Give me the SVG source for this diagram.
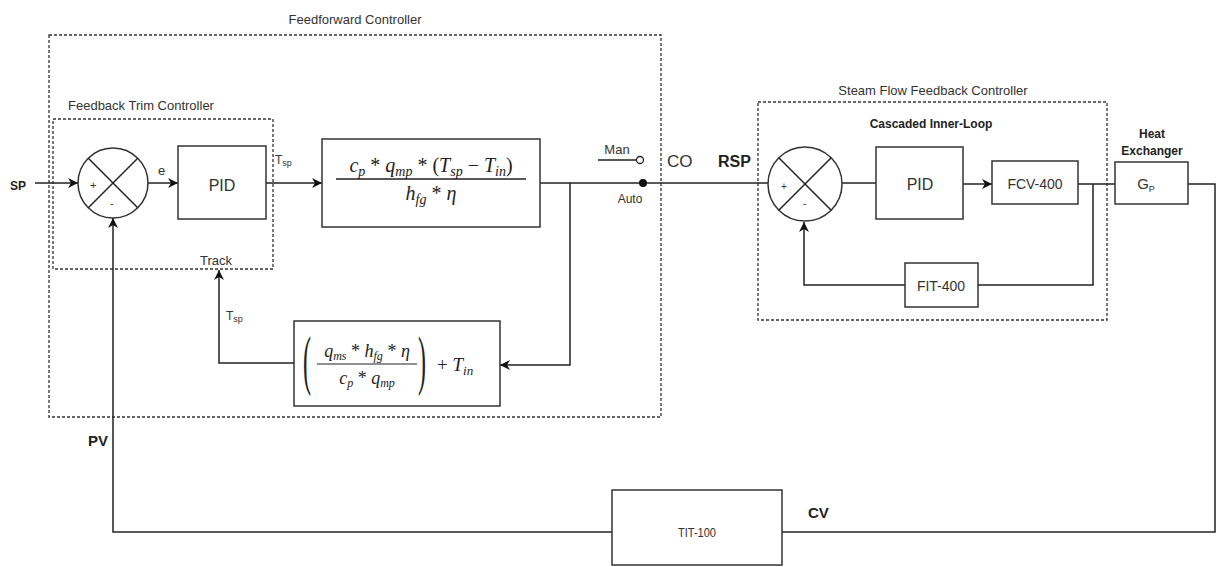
<svg xmlns="http://www.w3.org/2000/svg" width="1217" height="567" viewBox="0 0 1217 567">
<defs>
<marker id="arr" viewBox="0 0 10 10" refX="10" refY="5" markerWidth="10" markerHeight="10" markerUnits="userSpaceOnUse" orient="auto">
<path d="M0,0 L10,5 L0,10 L3,5 Z" fill="#111"/>
</marker>
</defs>
<style>
.ln{stroke:#222;stroke-width:1.5;fill:none}
.bx{stroke:#333;stroke-width:1.5;fill:#fff}
.dash{stroke:#333;stroke-width:1.3;fill:none;stroke-dasharray:3,2}
.t{font-family:"Liberation Sans",Arial,sans-serif;fill:#333}
.b{font-family:"Liberation Sans",Arial,sans-serif;fill:#222;font-weight:bold}
.m{font-family:"Liberation Serif","DejaVu Serif",serif;font-style:italic;fill:#222}
.mn{font-family:"Liberation Serif","DejaVu Serif",serif;font-style:normal;fill:#222}
</style>
<rect width="1217" height="567" fill="#fff"/>

<g id="feedforward-controller">
<rect class="dash" x="49" y="35" width="612" height="382"/>
<text class="t" x="355" y="24" font-size="13" text-anchor="middle">Feedforward Controller</text>
</g>
<g id="feedback-trim-controller">
<rect class="dash" x="53" y="119" width="220" height="150"/>
<text class="t" x="68" y="110" font-size="13">Feedback Trim Controller</text>
</g>
<g id="steam-flow-controller">
<rect class="dash" x="758" y="102" width="349" height="218"/>
<text class="t" x="933" y="95" font-size="13" text-anchor="middle">Steam Flow Feedback Controller</text>
<text class="b" x="931" y="128" font-size="12" text-anchor="middle">Cascaded Inner-Loop</text>
</g>

<g id="connectors">
<line class="ln" x1="35" y1="183" x2="78" y2="183" marker-end="url(#arr)"/>
<line class="ln" x1="148" y1="183" x2="178" y2="183" marker-end="url(#arr)"/>
<line class="ln" x1="266" y1="183" x2="322" y2="183" marker-end="url(#arr)"/>
<polyline class="ln" points="540,183 643,183"/>
<polyline class="ln" points="570,183 570,365 500,365" marker-end="url(#arr)"/>
<polyline class="ln" points="294,363 219,363 219,270" marker-end="url(#arr)"/>
<line class="ln" x1="598" y1="160" x2="636" y2="160"/>
<line class="ln" x1="643" y1="183" x2="768" y2="183"/>
<line class="ln" x1="842" y1="183" x2="876" y2="183"/>
<line class="ln" x1="963" y1="184" x2="992" y2="184" marker-end="url(#arr)"/>
<line class="ln" x1="1078" y1="184" x2="1115" y2="184"/>
<polyline class="ln" points="1093,184 1093,285 978,285"/>
<polyline class="ln" points="905,285 804,285 804,222" marker-end="url(#arr)"/>
<polyline class="ln" points="1188,184 1215,184 1215,532 782,532"/>
<polyline class="ln" points="612,532 113,532 113,218" marker-end="url(#arr)"/>
</g>

<g id="sum1">
<circle cx="113" cy="183" r="35" class="bx" fill="none"/>
<line class="ln" x1="88.3" y1="158.3" x2="137.7" y2="207.7"/>
<line class="ln" x1="137.7" y1="158.3" x2="88.3" y2="207.7"/>
<text class="t" x="90" y="189" font-size="11">+</text>
<text class="t" x="110" y="207" font-size="11">-</text>
</g>

<g id="pid1">
<rect class="bx" x="178" y="146" width="88" height="73"/>
<text class="t" x="222" y="191" font-size="16" text-anchor="middle">PID</text>
</g>

<g id="ff-formula">
<rect class="bx" x="322" y="139" width="218" height="88"/>
<text class="m" x="431" y="172" font-size="20" text-anchor="middle">c<tspan font-size="14" dy="4">p</tspan><tspan dy="-4" class="mn"> * </tspan>q<tspan font-size="14" dy="4">mp</tspan><tspan dy="-4" class="mn"> * (</tspan>T<tspan font-size="14" dy="4">sp</tspan><tspan dy="-4" class="mn"> − </tspan>T<tspan font-size="14" dy="4">in</tspan><tspan dy="-4" class="mn">)</tspan></text>
<line x1="336" y1="179" x2="526" y2="179" stroke="#222" stroke-width="1.3"/>
<text class="m" x="431" y="200" font-size="20" text-anchor="middle">h<tspan font-size="14" dy="4">fg</tspan><tspan dy="-4" class="mn"> * </tspan>η</text>
</g>

<g id="track-formula">
<rect class="bx" x="294" y="321" width="206" height="85"/>
<text class="mn" x="303" y="370" font-size="24" transform="translate(0 363) scale(1 2.7) translate(0 -363)">(</text>
<text class="mn" x="418" y="370" font-size="24" transform="translate(0 363) scale(1 2.7) translate(0 -363)">)</text>
<text class="m" x="367" y="357" text-anchor="middle" font-size="18">q<tspan font-size="12" dy="3">ms</tspan><tspan dy="-3" class="mn"> * </tspan>h<tspan font-size="12" dy="3">fg</tspan><tspan dy="-3" class="mn"> * </tspan>η</text>
<line x1="317" y1="364" x2="417" y2="364" stroke="#222" stroke-width="1.2"/>
<text class="m" x="367" y="384" text-anchor="middle" font-size="18">c<tspan font-size="12" dy="3">p</tspan><tspan dy="-3" class="mn"> * </tspan>q<tspan font-size="12" dy="3">mp</tspan></text>
<text class="m" x="437" y="371" font-size="19"><tspan class="mn">+ </tspan>T<tspan font-size="13" dy="4">in</tspan></text>
</g>

<g id="switch">
<circle cx="640" cy="160" r="3.5" fill="#fff" stroke="#222" stroke-width="1.3"/>
<circle cx="643" cy="183" r="4" fill="#111"/>
<text class="t" x="617" y="154" font-size="13" text-anchor="middle">Man</text>
<text class="t" x="630" y="203" font-size="12" text-anchor="middle">Auto</text>
</g>

<g id="labels">
<text class="b" x="10" y="190" font-size="12">SP</text>
<text class="t" x="158" y="175" font-size="13">e</text>
<text class="t" x="275" y="164" font-size="12">T<tspan font-size="9" dy="2">sp</tspan></text>
<text class="t" x="200" y="265" font-size="13">Track</text>
<text class="t" x="226" y="320" font-size="12">T<tspan font-size="9" dy="2">sp</tspan></text>
<text class="t" x="667" y="167" font-size="17" fill="#222">CO</text>
<text class="b" x="718" y="167" font-size="16">RSP</text>
<text class="b" x="88" y="446" font-size="15">PV</text>
<text class="b" x="808" y="518" font-size="15">CV</text>
</g>

<g id="sum2">
<circle cx="805" cy="184" r="37" class="bx" fill="none"/>
<line class="ln" x1="778.8" y1="157.8" x2="831.2" y2="210.2"/>
<line class="ln" x1="831.2" y1="157.8" x2="778.8" y2="210.2"/>
<text class="t" x="781" y="190" font-size="10">+</text>
<text class="t" x="803" y="207" font-size="10">-</text>
</g>

<g id="pid2">
<rect class="bx" x="876" y="147" width="87" height="72"/>
<text class="t" x="920" y="190" font-size="16" text-anchor="middle">PID</text>
</g>

<g id="fcv400">
<rect class="bx" x="992" y="161" width="86" height="43"/>
<text class="t" x="1035" y="189" font-size="14" text-anchor="middle">FCV-400</text>
</g>

<g id="fit400">
<rect class="bx" x="905" y="263" width="73" height="44"/>
<text class="t" x="941" y="291" font-size="14" text-anchor="middle">FIT-400</text>
</g>

<g id="heat-exchanger">
<rect class="bx" x="1115" y="162" width="73" height="42"/>
<text class="t" x="1146" y="189" font-size="15" text-anchor="middle">G<tspan font-size="9" dy="3">P</tspan></text>
<text class="b" x="1152" y="138" font-size="12" text-anchor="middle">Heat</text>
<text class="b" x="1152" y="155" font-size="12" text-anchor="middle">Exchanger</text>
</g>

<g id="tit100">
<rect class="bx" x="612" y="490" width="170" height="75"/>
<text class="t" x="697" y="537" font-size="13" text-anchor="middle" transform="translate(697 537) scale(0.85 1) translate(-697 -537)">TIT-100</text>
</g>
</svg>
